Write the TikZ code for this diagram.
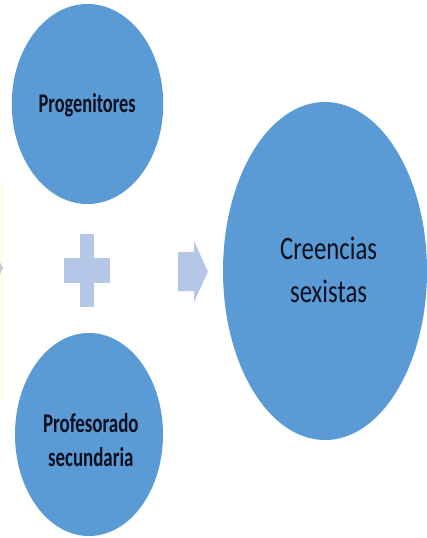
\documentclass[tikz,border=0pt]{standalone}
\usepackage{fontspec}
\setmainfont{Carlito}
\usetikzlibrary{shapes.geometric}
\definecolor{circblue}{HTML}{5B9BD5}
\definecolor{paleblue}{HTML}{B4C7E7}
\definecolor{txtdark}{HTML}{0C0F1E}
\tikzset{
  bubble/.style={ellipse, fill=circblue, draw=none, inner sep=0pt},
  boldlbl/.style={anchor=base, inner sep=0pt, text=txtdark, font=\fontsize{27}{34}\selectfont\bfseries},
  biglbl/.style={anchor=base, inner sep=0pt, text=txtdark, font=\fontsize{32.6}{43.3}\selectfont},
  deco/.style={fill=paleblue, draw=none}
}
\begin{document}
\begin{tikzpicture}[x=1pt,y=-1pt]
\useasboundingbox (0,0) rectangle (427,538);
\fill[white] (0,0) rectangle (427,538);
% faint left edge remnants
\fill[yellow!8] (0,180) rectangle (2.5,400);
\fill[black!20] (0,262) -- (3,268) -- (0,274) -- cycle;
% ellipses
\node[bubble, minimum width=151.5pt, minimum height=200pt] (prog) at (87.5,104) {};
\node[bubble, minimum width=148pt, minimum height=203pt] (prof) at (89,434.5) {};
\node[bubble, minimum width=204pt, minimum height=338pt] (creen) at (325,271) {};
% labels
\node[boldlbl] (tprog) at (87.2,112.3) {\scalebox{0.68}[1]{Progenitores}};
\node[boldlbl] (tprof) at (90.8,432.7) {\scalebox{0.7}[1]{\begin{tabular}[t]{@{}c@{}}Profesorado\\secundaria\end{tabular}}};
\node[biglbl] (tcreen) at (328.6,259.3) {\scalebox{0.76}[1]{\begin{tabular}[t]{@{}c@{}}Creencias\\sexistas\end{tabular}}};
% plus sign
\fill[deco] (80,234) rectangle (94.3,306.7);
\fill[deco] (64,258) rectangle (110,282.7);
% block arrow
\fill[deco] (178,252) -- (194,252) -- (194,241) -- (208,271.7) -- (194,302) -- (194,291) -- (178,291) -- cycle;
\end{tikzpicture}
\end{document}
